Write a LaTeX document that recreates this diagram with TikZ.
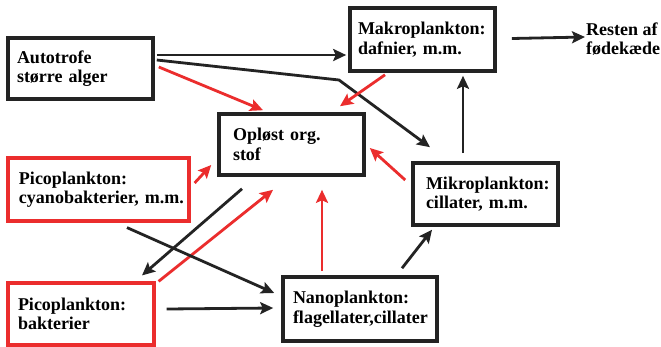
\documentclass[tikz,border=0pt]{standalone}
\usepackage{fontspec}
\setmainfont{Liberation Serif}
\usetikzlibrary{arrows.meta}
\definecolor{myred}{RGB}{235,45,45}
\definecolor{myblack}{RGB}{35,35,35}
\begin{document}
\begin{tikzpicture}[x=1pt,y=-1pt,
  txt/.style={font=\bfseries\fontsize{18}{19.5}\selectfont, align=left, inner ysep=0pt, anchor=center},
  bbox/.style={txt, draw=myblack, line width=3.6pt, fill=white},
  rbox/.style={txt, draw=myred, line width=3.2pt, fill=white},
  arr/.style={line width=2.8pt, -{Stealth[length=13pt,width=12pt,inset=2.5pt]}},
  blk/.style={arr, draw=myblack},
  red/.style={arr, draw=myred}]
\useasboundingbox (0,0) rectangle (661,346);
\fill[white] (0,0) rectangle (661,346);

\node[bbox, minimum width=145pt, minimum height=61pt, inner xsep=9pt, text width=127pt] (auto) at (80.5,68.5) {Autotrofe\\større alger};
\node[bbox, minimum width=145pt, minimum height=63pt, inner xsep=8pt, text width=129pt] (makro) at (422.5,39.5) {Makroplankton:\\dafnier, m.m.};
\node[bbox, minimum width=145pt, minimum height=61pt, inner xsep=14pt, text width=117pt] (opl) at (291.5,144.5) {Opløst org.\\stof};
\node[rbox, minimum width=181pt, minimum height=63pt, inner xsep=11pt, text width=159pt] (cyano) at (98.5,189.5) {Picoplankton:\\cyanobakterier,~m.m.};
\node[rbox, minimum width=146pt, minimum height=62pt, inner xsep=10pt, text width=126pt] (bakt) at (81,314) {Picoplankton:\\bakterier};
\node[bbox, minimum width=154pt, minimum height=64pt, inner xsep=10pt, text width=134pt] (nano) at (360,309) {Nanoplankton:\\flagellater,cillater};
\node[bbox, minimum width=145pt, minimum height=62pt, inner xsep=13pt, text width=119pt] (mikro) at (485.5,194) {Mikroplankton:\\cillater,~m.m.};
\node[txt, anchor=west, inner xsep=0pt] (rest) at (586,39) {Resten af\\fødekæde};

\coordinate (bend) at (339,80);

\draw[blk] ([xshift=2pt,yshift=13.5pt]auto.east) -- ([xshift=-2pt,yshift=-15.5pt]makro.west);
\draw[blk] ([xshift=2pt,yshift=8.5pt]auto.east) -- (bend) -- ([xshift=-55.5pt,yshift=14pt]mikro.north);
\draw[red] ([xshift=4pt,yshift=1.5pt]auto.east) -- ([xshift=-28.5pt,yshift=2pt]opl.north);
\draw[red] ([xshift=-37.5pt,yshift=-2pt]makro.south) -- ([xshift=48.5pt,yshift=6pt]opl.north);
\draw[blk] ([xshift=15pt,yshift=1pt]makro.east) -- ([xshift=-1pt,yshift=2pt]rest.west);
\draw[blk] ([xshift=-22.5pt,yshift=8pt]mikro.north) -- ([xshift=40.5pt,yshift=-3pt]makro.south);
\draw[red] ([xshift=-6pt,yshift=14pt]mikro.west) -- ([xshift=4pt,yshift=-3.5pt]opl.east);
\draw[blk] ([xshift=42pt,yshift=7pt]nano.north) -- ([xshift=-53.5pt,yshift=-3pt]mikro.south);
\draw[red] ([xshift=-38pt,yshift=4pt]nano.north) -- ([xshift=30.5pt,yshift=-13pt]opl.south);
\draw[red] ([xshift=4pt,yshift=6.5pt]cyano.east) -- ([xshift=-6pt,yshift=-20.5pt]opl.west);
\draw[red] ([xshift=3pt,yshift=0pt]bakt.north east) -- ([xshift=-18.5pt,yshift=-13pt]opl.south);
\draw[blk] ([xshift=-49.5pt,yshift=-12pt]opl.south) -- ([xshift=61pt,yshift=6pt]bakt.north);
\draw[blk] ([xshift=28.5pt,yshift=-5pt]cyano.south) -- ([xshift=-7pt,yshift=16pt]nano.west);
\draw[blk] ([xshift=11pt,yshift=5pt]bakt.east) -- ([xshift=-8pt,yshift=1pt]nano.west);
\end{tikzpicture}
\end{document}
